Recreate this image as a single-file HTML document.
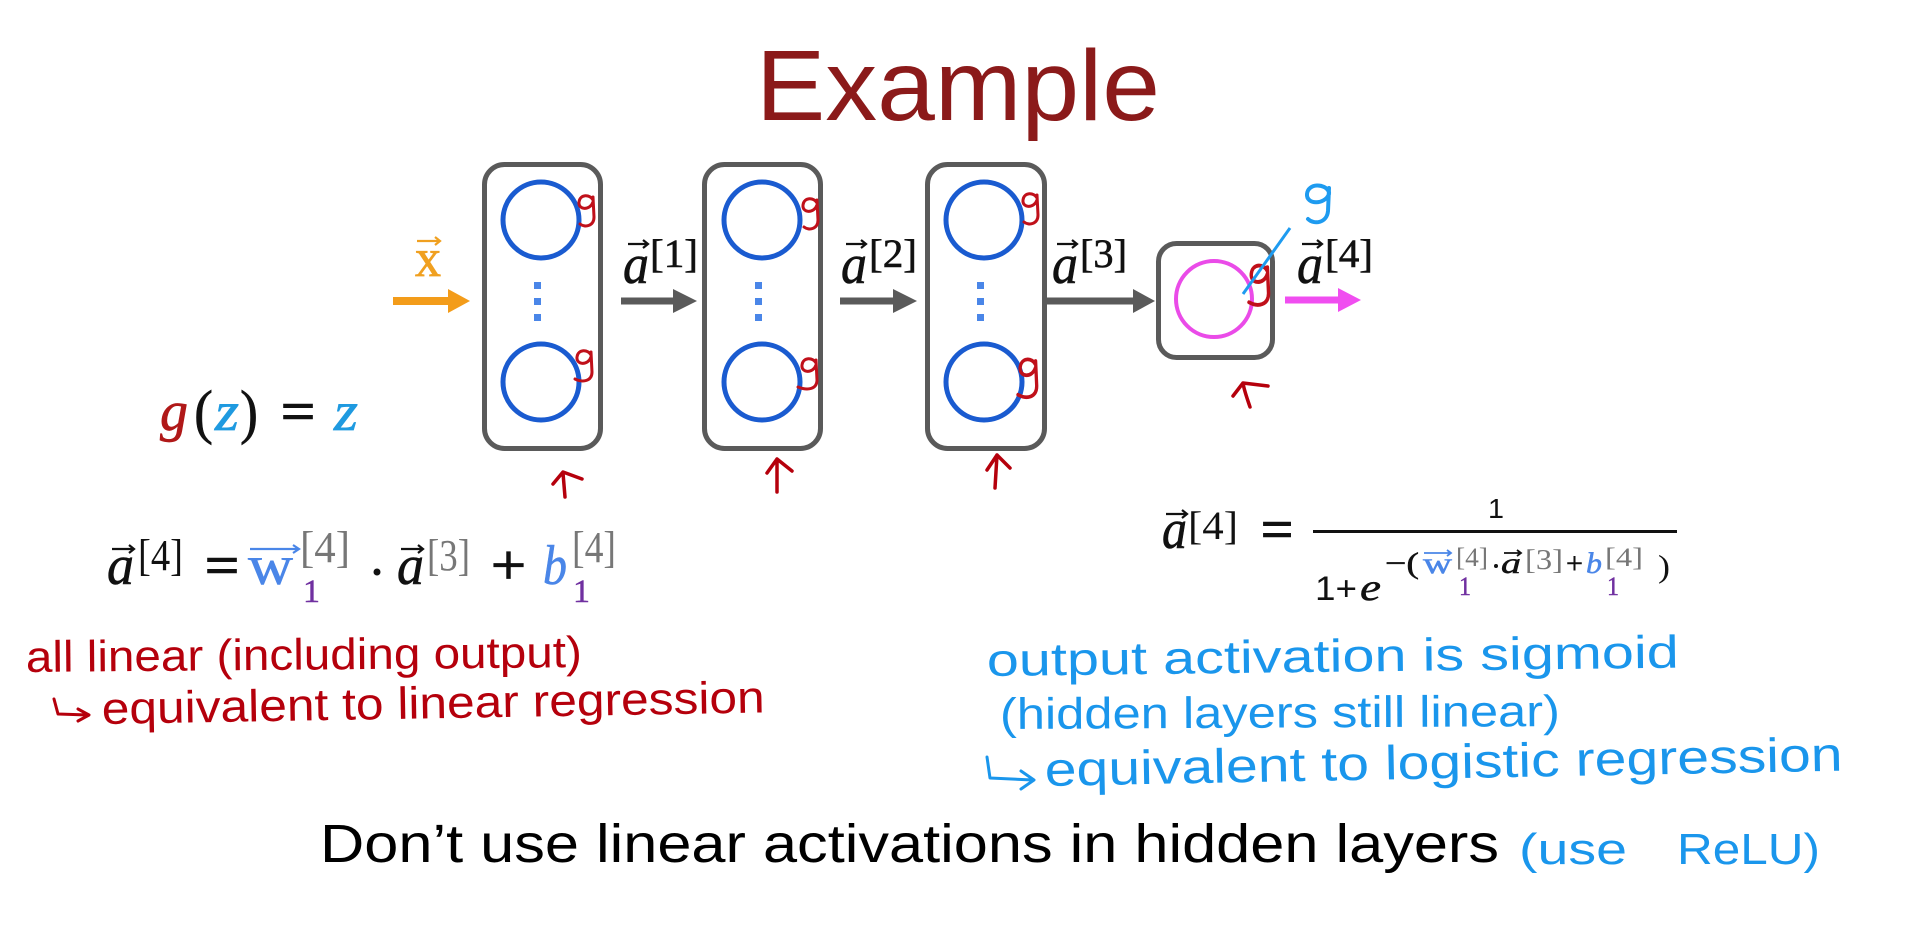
<!DOCTYPE html>
<html>
<head>
<meta charset="utf-8">
<style>
html,body{margin:0;padding:0;background:#fff;}
svg{display:block;}
.ser{font-family:"Liberation Serif",serif;}
.it{font-family:"Liberation Serif",serif;font-style:italic;}
.sans{font-family:"Liberation Sans",sans-serif;}
</style>
</head>
<body>
<svg width="1915" height="942" viewBox="0 0 1915 942" xmlns="http://www.w3.org/2000/svg">
<rect width="1915" height="942" fill="#fff"/>

<!-- Title -->
<text x="756" y="120" class="sans" font-size="100" fill="#8b1a1a" textLength="404" lengthAdjust="spacingAndGlyphs">Example</text>

<!-- Boxes -->
<g fill="none" stroke="#5a5a5a" stroke-width="5">
  <rect x="484.5" y="164.5" width="116" height="284" rx="20"/>
  <rect x="704.5" y="164.5" width="116" height="284" rx="20"/>
  <rect x="927.5" y="164.5" width="117" height="284" rx="20"/>
  <rect x="1158.5" y="243.5" width="114" height="114" rx="18"/>
</g>

<!-- Circles -->
<g fill="none" stroke="#1a5bd0" stroke-width="5">
  <circle cx="541" cy="220" r="38"/>
  <circle cx="541" cy="382" r="38"/>
  <circle cx="762" cy="220" r="38"/>
  <circle cx="762" cy="382" r="38"/>
  <circle cx="984" cy="220" r="38"/>
  <circle cx="984" cy="382" r="38"/>
</g>
<circle cx="1214" cy="299" r="38" fill="none" stroke="#ea4be8" stroke-width="4"/>

<!-- dots -->
<g fill="#4a86e8">
  <rect x="534" y="282" width="7" height="7"/><rect x="534" y="298" width="7" height="7"/><rect x="534" y="314" width="7" height="7"/>
  <rect x="755" y="282" width="7" height="7"/><rect x="755" y="298" width="7" height="7"/><rect x="755" y="314" width="7" height="7"/>
  <rect x="977" y="282" width="7" height="7"/><rect x="977" y="298" width="7" height="7"/><rect x="977" y="314" width="7" height="7"/>
</g>

<!-- arrows -->
<line x1="393" y1="301" x2="450" y2="301" stroke="#f39c1a" stroke-width="8"/>
<polygon points="448,289 470,301 448,313" fill="#f39c1a"/>
<g fill="#5a5a5a" stroke="#5a5a5a">
  <line x1="621" y1="301" x2="675" y2="301" stroke-width="7"/>
  <polygon points="673,289 697,301 673,313" stroke="none"/>
  <line x1="840" y1="301" x2="895" y2="301" stroke-width="7"/>
  <polygon points="893,289 917,301 893,313" stroke="none"/>
  <line x1="1047" y1="301" x2="1135" y2="301" stroke-width="7"/>
  <polygon points="1133,289 1155,301 1133,313" stroke="none"/>
</g>
<line x1="1285" y1="300" x2="1340" y2="300" stroke="#f04ef0" stroke-width="7"/>
<polygon points="1338,288 1361,300 1338,312" fill="#f04ef0"/>

<!-- x vector label -->
<text x="415" y="276" class="ser" font-size="54" fill="#f0a020" stroke="#f0a020" stroke-width="0.8" textLength="26" lengthAdjust="spacingAndGlyphs">x</text>
<path d="M417 241 H440 M435 237 L440 241 L435 245" fill="none" stroke="#f0a020" stroke-width="2.2"/>

<!-- a labels -->
<g fill="#111" stroke="#111" stroke-width="0.6">
  <text x="623" y="283" class="it" font-size="56" textLength="26" lengthAdjust="spacingAndGlyphs">a</text>
  <text x="650" y="267" class="ser" font-size="40" textLength="48" lengthAdjust="spacingAndGlyphs">[1]</text>
  <text x="841" y="283" class="it" font-size="56" textLength="26" lengthAdjust="spacingAndGlyphs">a</text>
  <text x="869" y="267" class="ser" font-size="40" textLength="48" lengthAdjust="spacingAndGlyphs">[2]</text>
  <text x="1052" y="283" class="it" font-size="56" textLength="26" lengthAdjust="spacingAndGlyphs">a</text>
  <text x="1080" y="267" class="ser" font-size="40" textLength="47" lengthAdjust="spacingAndGlyphs">[3]</text>
  <text x="1297" y="283" class="it" font-size="56" textLength="26" lengthAdjust="spacingAndGlyphs">a</text>
  <text x="1325" y="267" class="ser" font-size="40" textLength="48" lengthAdjust="spacingAndGlyphs">[4]</text>
</g>
<g fill="none" stroke="#111" stroke-width="2.2">
  <path d="M628 244 H648 M643 240 L648 244 L643 248"/>
  <path d="M846 244 H866 M861 240 L866 244 L861 248"/>
  <path d="M1057 244 H1077 M1072 240 L1077 244 L1072 248"/>
  <path d="M1302 244 H1322 M1317 240 L1322 244 L1317 248"/>
</g>

<!-- red handwritten g's -->
<g fill="none" stroke="#c0101a" stroke-width="3" stroke-linecap="round">
  <path transform="translate(577,193)" d="M16 7 C13 1 3 1 2 9 C1 17 13 18 16 9 M16 4 L17 24 C17 33 8 35 3 31"/>
  <path transform="translate(575,348)" d="M16 7 C13 1 3 1 2 9 C1 17 13 18 16 9 M16 4 L17 24 C17 33 8 35 0 31"/>
  <path transform="translate(801,196)" d="M16 7 C13 1 3 1 2 9 C1 17 13 18 16 9 M16 4 L17 24 C17 33 8 35 3 31"/>
  <path transform="translate(800,356)" d="M16 7 C13 1 3 1 2 9 C1 17 13 18 16 9 M16 4 L17 24 C17 33 8 35 -2 31"/>
  <path transform="translate(1021,191)" d="M16 7 C13 1 3 1 2 9 C1 17 13 18 16 9 M16 4 L17 24 C17 33 8 35 3 31"/>
  <path transform="translate(1018,356) scale(1.1,1.25)" d="M16 7 C13 1 3 1 2 9 C1 17 13 18 16 9 M16 4 L17 24 C17 33 8 35 0 31"/>
  <path transform="translate(1249,262) scale(1.15,1.3)" d="M16 7 C13 1 3 1 2 9 C1 17 13 18 16 9 M16 4 L17 24 C17 33 8 35 0 31"/>
</g>

<!-- blue g and slash -->
<line x1="1243" y1="294" x2="1290" y2="228" stroke="#1e9bf0" stroke-width="3"/>
<path transform="translate(1304,183)" d="M25 9 C21 0 4 0 3 11 C2 22 21 22 25 11 M25 5 L24 28 C23 40 10 42 4 36" fill="none" stroke="#1e9bf0" stroke-width="4" stroke-linecap="round"/>

<!-- red arrows under boxes -->
<g fill="none" stroke="#b5000c" stroke-width="3.5" stroke-linecap="round" stroke-linejoin="round">
  <path d="M565 497 L563 473 M553 484 L563 472 L582 479"/>
  <path d="M777 492 L777 459 M767 473 L777 459 L792 471"/>
  <path d="M995 488 L997 455 M987 470 L997 455 L1010 468"/>
  <path d="M1250 407 C1247 398 1244 390 1243 383 M1233 396 L1243 383 L1268 386"/>
</g>

<!-- g(z) = z -->
<text x="160" y="430" class="it" font-size="56" fill="#b01818" stroke="#b01818" stroke-width="0.7" textLength="28" lengthAdjust="spacingAndGlyphs">g</text>
<text x="194" y="432" class="ser" font-size="60" fill="#111" stroke="#111" stroke-width="0.6" textLength="19" lengthAdjust="spacingAndGlyphs">(</text>
<text x="215" y="430" class="it" font-size="56" fill="#1f9ae0" stroke="#1f9ae0" stroke-width="0.7" textLength="24" lengthAdjust="spacingAndGlyphs">z</text>
<text x="240" y="432" class="ser" font-size="60" fill="#111" stroke="#111" stroke-width="0.6" textLength="18" lengthAdjust="spacingAndGlyphs">)</text>
<text x="281" y="430" class="ser" font-size="56" fill="#111" stroke="#111" stroke-width="1.5" textLength="34" lengthAdjust="spacingAndGlyphs">=</text>
<text x="334" y="430" class="it" font-size="56" fill="#1f9ae0" stroke="#1f9ae0" stroke-width="0.7" textLength="24" lengthAdjust="spacingAndGlyphs">z</text>

<!-- left equation -->
<text x="107" y="584" class="it" font-size="56" fill="#111" stroke="#111" stroke-width="0.6" textLength="27" lengthAdjust="spacingAndGlyphs">a</text>
<path d="M112 549 H134 M129 545 L134 549 L129 553" fill="none" stroke="#111" stroke-width="2.2"/>
<text x="138" y="570" class="ser" font-size="44" fill="#111" textLength="45" lengthAdjust="spacingAndGlyphs">[4]</text>
<text x="205" y="584" class="ser" font-size="56" fill="#111" stroke="#111" stroke-width="1.5" textLength="34" lengthAdjust="spacingAndGlyphs">=</text>
<text x="248" y="584" class="ser" font-size="56" fill="#4a86e8" stroke="#4a86e8" stroke-width="0.6" textLength="45" lengthAdjust="spacingAndGlyphs">w</text>
<path d="M250 549 H299 M293 545 L299 549 L293 553" fill="none" stroke="#4a86e8" stroke-width="2.2"/>
<text x="300" y="562" class="ser" font-size="44" fill="#777" textLength="50" lengthAdjust="spacingAndGlyphs">[4]</text>
<text x="303" y="602" class="ser" font-size="33" fill="#7030a0" stroke="#7030a0" stroke-width="0.5" textLength="17" lengthAdjust="spacingAndGlyphs">1</text>
<circle cx="377" cy="572" r="3.5" fill="#111"/>
<text x="397" y="584" class="it" font-size="56" fill="#111" stroke="#111" stroke-width="0.6" textLength="27" lengthAdjust="spacingAndGlyphs">a</text>
<path d="M401 549 H423 M418 545 L423 549 L418 553" fill="none" stroke="#111" stroke-width="2.2"/>
<text x="427" y="570" class="ser" font-size="44" fill="#777" textLength="43" lengthAdjust="spacingAndGlyphs">[3]</text>
<text x="491" y="584" class="ser" font-size="56" fill="#111" stroke="#111" stroke-width="1.2" textLength="35" lengthAdjust="spacingAndGlyphs">+</text>
<text x="543" y="584" class="it" font-size="56" fill="#4a86e8" stroke="#4a86e8" stroke-width="0.6" textLength="24" lengthAdjust="spacingAndGlyphs">b</text>
<text x="572" y="562" class="ser" font-size="44" fill="#777" textLength="44" lengthAdjust="spacingAndGlyphs">[4]</text>
<text x="573" y="602" class="ser" font-size="33" fill="#7030a0" stroke="#7030a0" stroke-width="0.5" textLength="17" lengthAdjust="spacingAndGlyphs">1</text>

<!-- sigmoid equation -->
<text x="1162" y="548" class="it" font-size="56" fill="#111" stroke="#111" stroke-width="0.6" textLength="25" lengthAdjust="spacingAndGlyphs">a</text>
<path d="M1166 514 H1187 M1182 510 L1187 514 L1182 518" fill="none" stroke="#111" stroke-width="2.2"/>
<text x="1188" y="539" class="ser" font-size="40" fill="#111" textLength="50" lengthAdjust="spacingAndGlyphs">[4]</text>
<text x="1261" y="548" class="ser" font-size="56" fill="#111" stroke="#111" stroke-width="1.5" textLength="32" lengthAdjust="spacingAndGlyphs">=</text>
<rect x="1313" y="530" width="364" height="3" fill="#111"/>
<text x="1488" y="518" class="sans" font-size="28" fill="#111" textLength="16" lengthAdjust="spacingAndGlyphs">1</text>
<text x="1315" y="600" class="sans" font-size="34" fill="#111" textLength="42" lengthAdjust="spacingAndGlyphs">1+</text>
<text x="1360" y="600" class="it" font-size="38" fill="#111" stroke="#111" stroke-width="0.5" textLength="21" lengthAdjust="spacingAndGlyphs">e</text>
<text x="1385" y="573" class="ser" font-size="30" fill="#111" stroke="#111" stroke-width="0.5" textLength="34" lengthAdjust="spacingAndGlyphs">−(</text>
<text x="1423" y="573" class="ser" font-size="30" fill="#4a86e8" stroke="#4a86e8" stroke-width="0.5" textLength="29" lengthAdjust="spacingAndGlyphs">w</text>
<path d="M1424 553 H1451 M1447 550 L1451 553 L1447 556" fill="none" stroke="#4a86e8" stroke-width="1.8"/>
<text x="1456" y="566" class="ser" font-size="26" fill="#777" textLength="32" lengthAdjust="spacingAndGlyphs">[4]</text>
<text x="1459" y="595" class="ser" font-size="26" fill="#7030a0" stroke="#7030a0" stroke-width="0.5" textLength="12" lengthAdjust="spacingAndGlyphs">1</text>
<circle cx="1496" cy="566" r="2" fill="#111"/>
<text x="1501" y="573" class="it" font-size="30" fill="#111" stroke="#111" stroke-width="0.5" textLength="20" lengthAdjust="spacingAndGlyphs">a</text>
<path d="M1504 553 H1521 M1517 550 L1521 553 L1517 556" fill="none" stroke="#111" stroke-width="1.8"/>
<text x="1525" y="569" class="ser" font-size="28" fill="#777" textLength="38" lengthAdjust="spacingAndGlyphs">[3]</text>
<text x="1566" y="573" class="ser" font-size="30" fill="#111" stroke="#111" stroke-width="0.5" textLength="17" lengthAdjust="spacingAndGlyphs">+</text>
<text x="1586" y="573" class="it" font-size="30" fill="#4a86e8" stroke="#4a86e8" stroke-width="0.5" textLength="16" lengthAdjust="spacingAndGlyphs">b</text>
<text x="1605" y="566" class="ser" font-size="26" fill="#777" textLength="38" lengthAdjust="spacingAndGlyphs">[4]</text>
<text x="1607" y="595" class="ser" font-size="26" fill="#7030a0" stroke="#7030a0" stroke-width="0.5" textLength="12" lengthAdjust="spacingAndGlyphs">1</text>
<text x="1658" y="577" class="ser" font-size="32" fill="#111" textLength="12" lengthAdjust="spacingAndGlyphs">)</text>

<!-- red handwriting -->
<g class="sans" fill="#b5000c">
  <text x="26" y="672" font-size="44" textLength="556" lengthAdjust="spacingAndGlyphs" transform="rotate(-0.5 26 672)">all linear (including output)</text>
  <text x="102" y="724" font-size="45" textLength="663" lengthAdjust="spacingAndGlyphs" transform="rotate(-1 102 724)">equivalent to linear regression</text>
</g>
<path d="M54 699 L58 714 L88 715 M78 709 L89 715 L78 721" fill="none" stroke="#b5000c" stroke-width="3" stroke-linecap="round" stroke-linejoin="round"/>

<!-- blue handwriting -->
<g class="sans" fill="#1a96ec">
  <text x="987" y="676" font-size="46" textLength="692" lengthAdjust="spacingAndGlyphs" transform="rotate(-0.7 987 676)">output activation is sigmoid</text>
  <text x="1000" y="729" font-size="44" textLength="560" lengthAdjust="spacingAndGlyphs" transform="rotate(-0.3 1000 729)">(hidden layers still linear)</text>
  <text x="1045" y="786" font-size="48" textLength="798" lengthAdjust="spacingAndGlyphs" transform="rotate(-1.1 1045 786)">equivalent to logistic regression</text>
  <text x="1519" y="864" font-size="44" textLength="108" lengthAdjust="spacingAndGlyphs">(use</text>
  <text x="1677" y="864" font-size="44" textLength="143" lengthAdjust="spacingAndGlyphs">ReLU)</text>
</g>
<path d="M987 757 L990 778 L1033 780 M1021 771 L1034 780 L1021 789" fill="none" stroke="#1a96ec" stroke-width="3" stroke-linecap="round" stroke-linejoin="round"/>

<!-- bottom statement -->
<text x="320" y="862" class="sans" font-size="54" fill="#000" textLength="1179" lengthAdjust="spacingAndGlyphs">Don’t use linear activations in hidden layers</text>
</svg>
</body>
</html>
